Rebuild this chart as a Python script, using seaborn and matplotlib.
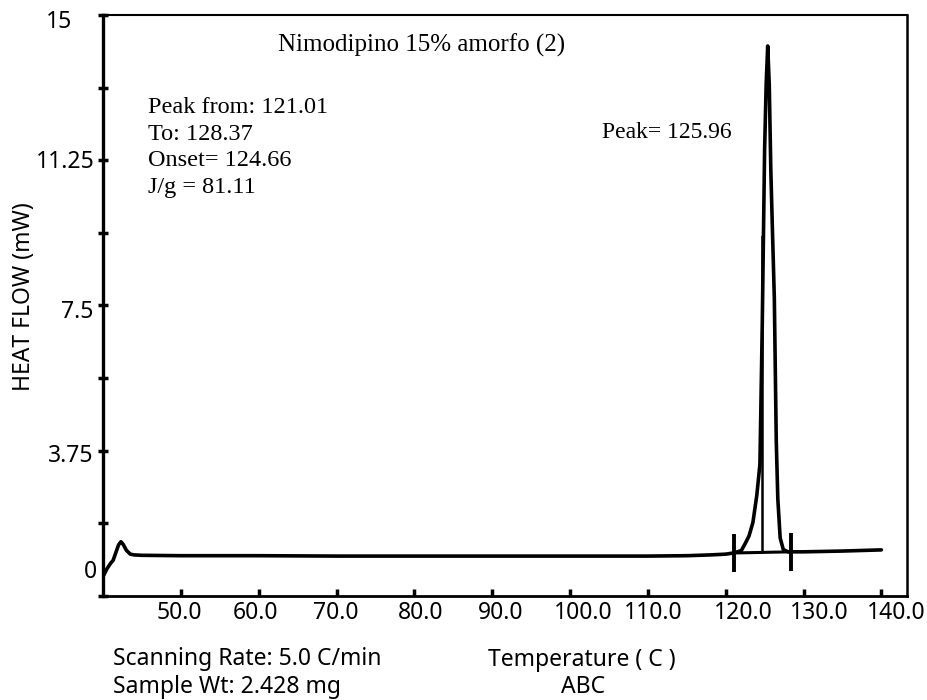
import matplotlib
matplotlib.use("Agg")
import matplotlib.pyplot as plt
import seaborn as sns
import pandas as pd

# ---- data ----
temp = [40.0, 40.5, 41.0, 41.3, 41.7, 42.0, 42.3, 42.6, 43.0, 43.5, 44.0, 45.0,
        50.0, 60.0, 70.0, 80.0, 90.0, 100.0, 110.0, 115.0, 118.0, 120.0, 121.0,
        122.0, 122.5, 123.0, 123.5, 124.0, 124.4, 124.7, 125.0, 125.2, 125.4,
        125.6, 125.8, 126.0, 126.25, 126.5, 126.7, 127.0, 127.4, 128.0, 130.0,
        135.0, 140.0]
heat_flow = [0.50, 0.70, 0.85, 0.92, 1.15, 1.32, 1.40, 1.33, 1.18, 1.08, 1.06, 1.05,
             1.04, 1.04, 1.03, 1.03, 1.03, 1.03, 1.03, 1.04, 1.06, 1.08, 1.11,
             1.17, 1.35, 1.55, 1.90, 2.60, 3.40, 7.00, 11.50, 13.20, 14.20,
             13.20, 11.00, 9.50, 7.70, 4.00, 2.50, 1.50, 1.20, 1.14, 1.14,
             1.16, 1.19]

peak_from, peak_to, onset = 121.01, 128.37, 124.66
base_from_y, base_to_y = 1.11, 1.14
onset_top = 9.3

xtick_vals = [50, 60, 70, 80, 90, 100, 110, 120, 130, 140]
xtick_labels = ["50.0", "60.0", "70.0", "80.0", "90.0", "100.0", "110.0", "120.0", "130.0", "140.0"]
ytick_vals = [0, 3.75, 7.5, 11.25, 15]
ytick_labels = ["0", "3.75", "7.5", "11.25", "15"]
yminor_vals = [1.875, 5.625, 9.375, 13.125]

title = "Nimodipino 15% amorfo (2)"
info_lines = ["Peak from: 121.01", "To: 128.37", "Onset= 124.66", "J/g = 81.11"]
peak_text = "Peak= 125.96"

# ---- styling ----
sns.set_style("white")
plt.rcParams["font.family"] = ["Noto Sans", "DejaVu Sans"]
plt.rcParams["text.color"] = "black"
serif = ["Liberation Serif", "DejaVu Serif"]
SANS = 16.5

fig = plt.figure(figsize=(9.28, 7.0), dpi=100)
ax = fig.add_axes([0.111, 0.1486, 0.8664, 0.83])

df = pd.DataFrame({"temp": temp, "flow": heat_flow})
sns.lineplot(data=df, x="temp", y="flow", ax=ax, color="black", lw=2.6,
             sort=False, estimator=None)

# baseline between peak limits, markers and onset line
ax.plot([peak_from, peak_to], [base_from_y, base_to_y], color="black", lw=2.2)
ax.plot([peak_from, peak_to], [base_from_y, base_to_y], ls="none", marker="|",
        ms=27, mew=2.8, color="black")
ax.plot([onset, onset], [base_from_y + 0.02, onset_top], color="black", lw=1.8)

ax.set_xlim(40, 143.3)
ax.set_ylim(0, 15)

for side in ["left", "right", "top", "bottom"]:
    ax.spines[side].set_color("black")
ax.spines["left"].set_linewidth(2.4)
ax.spines["bottom"].set_linewidth(2.0)
ax.spines["right"].set_linewidth(1.8)
ax.spines["top"].set_linewidth(1.5)

ax.set_xticks(xtick_vals)
ax.set_xticklabels([])
ax.set_yticks(ytick_vals)
ax.set_yticks(yminor_vals, minor=True)
ax.set_yticklabels([])
ax.tick_params(axis="x", direction="in", length=5, width=2.5, color="black", bottom=True)
ax.tick_params(axis="y", which="both", direction="inout", length=7, width=2.5,
               color="black", left=True)
ax.set_xlabel("")
ax.set_ylabel("")

# tick labels (scanned document: slight individual offsets in pixels)
x_label_dx = [-2, -3, -1, 6, 8, 13, 5, 18, 16, 15]
for v, lab, dx in zip(xtick_vals, xtick_labels, x_label_dx):
    ax.annotate(lab, xy=(v, 0), xycoords=("data", "axes fraction"),
                xytext=(dx, -23), textcoords="offset pixels",
                ha="center", va="baseline", fontsize=SANS)
y_label_off = {"0": (-6, 18), "3.75": (-10, -11), "7.5": (-10, -13),
               "11.25": (-8, -8), "15": (-31, -13)}
for v, lab in zip(ytick_vals, ytick_labels):
    dx, dy = y_label_off[lab]
    ax.annotate(lab, xy=(0, v), xycoords=("axes fraction", "data"),
                xytext=(dx, dy), textcoords="offset pixels",
                ha="right", va="baseline", fontsize=SANS)

# axis titles and notes
fig.text(24 / 928, 1 - 297 / 700, "HEAT FLOW (mW)", rotation=90, ha="center",
         va="center", fontsize=SANS)
fig.text(582 / 928, 1 - 666 / 700, "Temperature ( C )", ha="center", va="baseline", fontsize=SANS)
fig.text(583 / 928, 1 - 693 / 700, "ABC", ha="center", va="baseline", fontsize=SANS)
fig.text(113 / 928, 1 - 665 / 700, "Scanning Rate: 5.0 C/min", ha="left", va="baseline", fontsize=SANS)
fig.text(113 / 928, 1 - 693 / 700, "Sample Wt: 2.428 mg", ha="left", va="baseline", fontsize=SANS)

fig.text(278 / 928, 1 - 52 / 700, title, ha="left", va="baseline", fontsize=18, family=serif)
for i, line in enumerate(info_lines):
    fig.text(148 / 928, 1 - (113 + i * 26.7) / 700, line, ha="left", va="baseline",
             fontsize=17.5, family=serif)
fig.text(602 / 928, 1 - 138 / 700, peak_text, ha="left", va="baseline", fontsize=17, family=serif)

fig.savefig("out.png", dpi=100)
